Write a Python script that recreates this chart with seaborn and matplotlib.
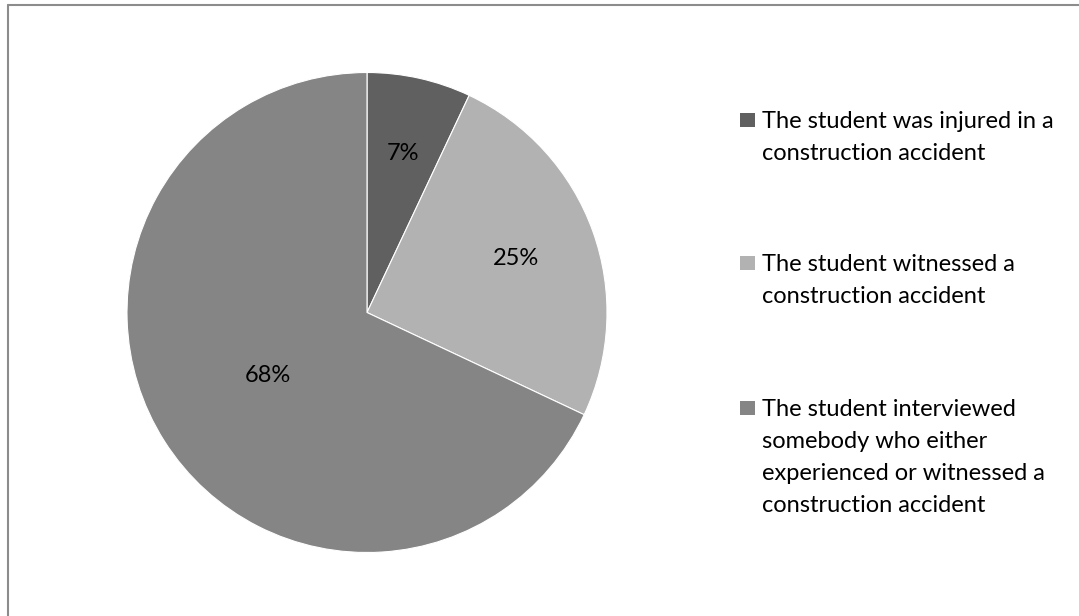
import numpy as np
import matplotlib
matplotlib.use("Agg")
import matplotlib.pyplot as plt
import seaborn as sns
from matplotlib.patches import Rectangle
from matplotlib.lines import Line2D

categories = [
    "The student was injured in a\nconstruction accident",
    "The student witnessed a\nconstruction accident",
    "The student interviewed\nsomebody who either\nexperienced or witnessed a\nconstruction accident",
]
shares = [7, 25, 68]
colors = ["#606060", "#b2b2b2", "#858585"]
# how far out each percent label sits (fraction of radius)
label_radius = [0.68, 0.66, 0.49]

sns.set_theme(style="white")
plt.rcParams["font.family"] = ["Lato", "DejaVu Sans"]

W, H = 1079, 616
fig = plt.figure(figsize=(W / 100, H / 100), dpi=100)

# frame: only top and left edges visible
fig.add_artist(Line2D([8 / W, 8 / W], [0, 1 - 5 / H], transform=fig.transFigure,
                      color="#8c8c8c", lw=1.5))
fig.add_artist(Line2D([8 / W, 1], [1 - 5 / H, 1 - 5 / H], transform=fig.transFigure,
                      color="#8c8c8c", lw=1.5))

cx, cy, r = 367, 312.5, 240
ax = fig.add_axes([(cx - r) / W, 1 - (cy + r) / H, 2 * r / W, 2 * r / H])
wedges, texts, autotexts = ax.pie(
    shares, colors=colors, startangle=90, counterclock=False,
    autopct="%d%%", pctdistance=0.6,
    wedgeprops=dict(edgecolor="white", linewidth=0.8),
    textprops=dict(fontsize=17, color="black"),
)
for w, t, d in zip(wedges, autotexts, label_radius):
    ang = np.deg2rad((w.theta1 + w.theta2) / 2)
    t.set_position((d * np.cos(ang), d * np.sin(ang)))
ax.set_xlim(-1, 1)
ax.set_ylim(-1, 1)
ax.set_aspect("equal")
ax.axis("off")

# legend drawn by hand so each square lines up with the first text line
entry_mid = [120, 263, 408]
line_gap = 32
for lab, col, y in zip(categories, colors, entry_mid):
    fig.add_artist(Rectangle((740 / W, 1 - (y + 7) / H), 15 / W, 14 / H,
                             transform=fig.transFigure, facecolor=col, edgecolor="none"))
    for i, line in enumerate(lab.split("\n")):
        fig.text(762 / W, 1 - (y + 8 + i * line_gap) / H, line, fontsize=17,
                 va="baseline", ha="left", color="black")

fig.savefig("out.png", dpi=100)
